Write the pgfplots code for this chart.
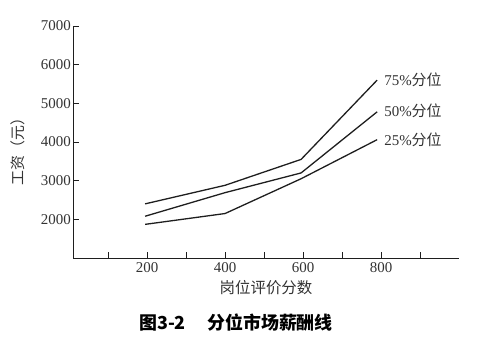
\documentclass[border=0pt]{standalone}
\usepackage{pgfplots}
\pgfplotsset{compat=1.18}
\usepackage{fontspec}
\setmainfont{Liberation Serif}
\newfontfamily\cjk{Noto Sans CJK SC}
\definecolor{txt}{HTML}{333333}
\definecolor{ln}{HTML}{1E1E1E}
\begin{document}
\begin{tikzpicture}
\path[use as bounding box, fill=white] (0bp,0bp) rectangle (480bp,356bp);
\begin{axis}[
  at={(73bp,98bp)}, anchor=south west,
  scale only axis, width=386bp, height=232bp,
  xmin=10, xmax=1000, ymin=1000, ymax=7000,
  axis lines=left,
  axis line style={-, color=ln, line width=0.9pt},
  tick align=inside,
  major tick length=6bp,
  tick style={color=ln, line width=0.8pt},
  xtick={100,200,...,900},
  xticklabels={,200,,400,,600,,800,},
  ytick={2000,3000,...,7000},
  /pgf/number format/assume math mode=true,
  yticklabel style={/pgf/number format/1000 sep={}, font=\fontsize{15}{16}\selectfont, text=txt, inner xsep=2bp},
  xticklabel style={font=\fontsize{15}{16}\selectfont, text=txt, inner ysep=4.5bp},
  scaled y ticks=false,
  clip=false,
]
\addplot[ln, line width=1.3pt] coordinates {(195,2400) (400,2880) (595,3550) (790,5600)};
\addplot[ln, line width=1.3pt] coordinates {(195,2080) (400,2690) (595,3200) (790,4780)};
\addplot[ln, line width=1.3pt] coordinates {(195,1870) (400,2150) (595,3050) (790,4060)};
\node[anchor=west, text=txt, font=\fontsize{15}{16}\selectfont, inner sep=0pt] at (axis cs:808,5620) {75\%{\cjk 分位}};
\node[anchor=west, text=txt, font=\fontsize{15}{16}\selectfont, inner sep=0pt] at (axis cs:808,4820) {50\%{\cjk 分位}};
\node[anchor=west, text=txt, font=\fontsize{15}{16}\selectfont, inner sep=0pt] at (axis cs:808,4050) {25\%{\cjk 分位}};
\end{axis}
\node[rotate=90, text=txt, font=\cjk\fontsize{15}{16}\selectfont] at (18bp,208bp) {工资（元）};
\node[text=txt, font=\cjk\fontsize{15.5}{16}\selectfont] at (266bp,68bp) {岗位评价分数};
\node[text=black, font=\cjk\bfseries\fontsize{18}{19}\selectfont] at (236bp,33bp) {图3-2\hspace{1.2em}分位市场薪酬线};
\end{tikzpicture}
\end{document}
